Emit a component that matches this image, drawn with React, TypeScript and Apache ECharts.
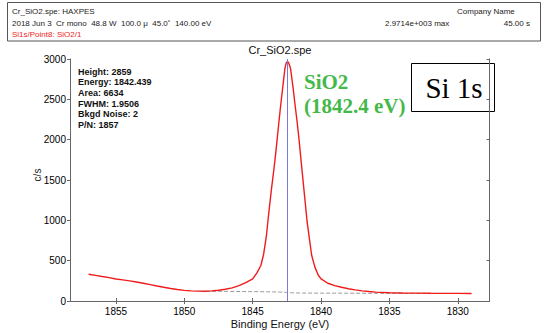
import React, { useEffect, useRef } from "react";
import * as echarts from "echarts";

// Spectrum (binding energy, counts per second)
const energy = [
  1857.0, 1856.5, 1856.0, 1855.5, 1855.0, 1854.5, 1854.0, 1853.5, 1853.0, 1852.5,
  1852.0, 1851.5, 1851.0, 1850.5, 1850.0, 1849.5, 1849.0, 1848.5, 1848.0, 1847.5,
  1847.0, 1846.5, 1846.0, 1845.5, 1845.0, 1844.7, 1844.4, 1844.2, 1844.0, 1843.89,
  1843.75, 1843.62, 1843.47, 1843.33, 1843.2, 1843.08, 1842.95, 1842.81, 1842.64, 1842.55,
  1842.45, 1842.35, 1842.23, 1842.04, 1841.9, 1841.75, 1841.62, 1841.5, 1841.38, 1841.26,
  1841.14, 1841.02, 1840.85, 1840.69, 1840.45, 1840.21, 1840.0, 1839.5, 1839.0, 1838.5,
  1838.0, 1837.5, 1837.0, 1836.5, 1836.0, 1835.0, 1834.0, 1833.0, 1832.0, 1831.0,
  1830.0, 1829.0,
];
const counts = [
  331, 318, 303, 290, 272, 262, 250, 236, 220, 203,
  186, 170, 155, 142, 132, 126, 122, 121, 125, 133,
  145, 162, 190, 228, 275, 345, 440, 580, 800, 983,
  1200, 1396, 1600, 1809, 2020, 2222, 2430, 2636, 2883, 2950,
  2971, 2945, 2883, 2636, 2430, 2222, 2020, 1809, 1600, 1396,
  1190, 983, 770, 570, 420, 322, 275, 220, 190, 170,
  152, 138, 126, 117, 110, 103, 100, 98, 96, 95,
  94, 93,
];

// Background (dashed)
const bgEnergy = [1848.4, 1846.0, 1844.0, 1843.0, 1842.5, 1842.0, 1841.0, 1839.0, 1837.0, 1835.0, 1833.0, 1829.0];
const bgCounts = [121, 118, 114, 111, 106, 100, 98, 97, 96, 95, 94, 93];

const peakEnergy = 1842.44;
const xTicks = [1855, 1850, 1845, 1840, 1835, 1830];
const xMin = 1827.68;
const xMax = 1858.36;
const yMin = 0;
const yMax = 3000;
const yStep = 500;

const headerLine1 = "Cr_SiO2.spe: HAXPES";
const headerLine2 = "2018 Jun 3  Cr mono  48.8 W  100.0 \u03bc  45.0\u02da  140.00 eV";
const headerLine3 = "Si1s/Point8: SiO2/1";
const companyText = "Company Name";
const maxText = "2.9714e+003 max";
const timeText = "45.00 s";
const titleText = "Cr_SiO2.spe";
const statsLines = [
  "Height: 2859",
  "Energy: 1842.439",
  "Area: 6634",
  "FWHM: 1.9506",
  "Bkgd Noise: 2",
  "P/N: 1857",
];
const peakLabel = ["SiO2", "(1842.4 eV)"];
const regionLabel = "Si 1s";
const xName = "Binding Energy (eV)";
const yName = "c/s";

const SANS = "'Liberation Sans', Arial, sans-serif";
const SERIF = "'Liberation Serif', 'Times New Roman', serif";

export default function App() {
  const ref = useRef<HTMLDivElement>(null);

  useEffect(() => {
    if (!ref.current) return;
    const chart = echarts.init(ref.current, null, { renderer: "svg" });
    const axisColor = "#666";
    const spectrum = energy.map((e, i) => [e, counts[i]]);
    const background = bgEnergy.map((e, i) => [e, bgCounts[i]]);
    const plain = (v: number) => String(v);

    chart.setOption({
      animation: false,
      backgroundColor: "#fff",
      grid: { left: 70, top: 59, width: 419.5, height: 242, containLabel: false },
      xAxis: [
        {
          type: "value",
          inverse: true,
          min: xMin,
          max: xMax,
          position: "bottom",
          axisLine: { show: true, lineStyle: { color: axisColor, width: 1 } },
          axisTick: { show: true, inside: true, length: 3, customValues: xTicks, lineStyle: { color: axisColor } },
          axisLabel: { show: true, customValues: xTicks, formatter: plain, fontSize: 10, color: "#000", fontFamily: SANS, margin: 5 },
          splitLine: { show: false },
        },
        {
          type: "value",
          inverse: true,
          min: xMin,
          max: xMax,
          position: "top",
          axisLine: { show: true, lineStyle: { color: axisColor, width: 1 } },
          axisTick: { show: true, inside: true, length: 3, customValues: xTicks, lineStyle: { color: axisColor } },
          axisLabel: { show: false },
          splitLine: { show: false },
        },
      ],
      yAxis: [
        {
          type: "value",
          min: yMin,
          max: yMax,
          interval: yStep,
          position: "left",
          axisLine: { show: true, lineStyle: { color: axisColor, width: 1 } },
          axisTick: { show: true, inside: false, length: 3, lineStyle: { color: axisColor } },
          axisLabel: { formatter: plain, fontSize: 10, color: "#000", fontFamily: SANS, margin: 4 },
          splitLine: { show: false },
        },
        {
          type: "value",
          min: yMin,
          max: yMax,
          interval: yStep,
          position: "right",
          axisLine: { show: true, lineStyle: { color: axisColor, width: 1 } },
          axisTick: { show: true, inside: true, length: 3, lineStyle: { color: axisColor } },
          axisLabel: { show: false },
          splitLine: { show: false },
        },
      ],
      series: [
        {
          type: "line",
          data: background,
          xAxisIndex: 0,
          yAxisIndex: 0,
          showSymbol: false,
          symbol: "none",
          lineStyle: { color: "#9a9a9a", width: 1, type: [4, 2] },
          z: 2,
        },
        {
          type: "line",
          data: spectrum,
          xAxisIndex: 0,
          yAxisIndex: 0,
          showSymbol: false,
          symbol: "none",
          lineStyle: { color: "#ee1c1c", width: 1.4 },
          z: 3,
          markLine: {
            silent: true,
            symbol: "none",
            label: { show: false },
            lineStyle: { color: "#7b7bd6", width: 1, type: "solid" },
            data: [{ xAxis: peakEnergy }],
          },
        },
      ],
      graphic: [
        {
          type: "rect",
          shape: { x: 7.5, y: 2.5, width: 533, height: 38.5 },
          style: { fill: "none", stroke: "#555", lineWidth: 1 },
        },
        {
          type: "text",
          style: { text: headerLine1, x: 12, y: 11, fontSize: 8, fontFamily: SANS, fill: "#222", verticalAlign: "middle" },
        },
        {
          type: "text",
          style: { text: headerLine2, x: 12, y: 23, fontSize: 8, fontFamily: SANS, fill: "#222", verticalAlign: "middle" },
        },
        {
          type: "text",
          style: { text: headerLine3, x: 12, y: 34, fontSize: 8, fontFamily: SANS, fill: "#ee1c1c", verticalAlign: "middle" },
        },
        {
          type: "text",
          style: { text: companyText, x: 457, y: 11, fontSize: 8, fontFamily: SANS, fill: "#222", verticalAlign: "middle" },
        },
        {
          type: "text",
          style: { text: maxText, x: 385, y: 23, fontSize: 8, fontFamily: SANS, fill: "#222", verticalAlign: "middle" },
        },
        {
          type: "text",
          style: { text: timeText, x: 530, y: 23, fontSize: 8, fontFamily: SANS, fill: "#222", align: "right", verticalAlign: "middle" },
        },
        {
          type: "text",
          style: { text: titleText, x: 280, y: 50, fontSize: 11, fontFamily: SANS, fill: "#111", align: "center", verticalAlign: "middle" },
        },
        {
          type: "text",
          style: {
            text: statsLines.join("\n"),
            x: 78,
            y: 66.4,
            fontSize: 9,
            fontWeight: "bold",
            fontFamily: SANS,
            fill: "#111",
            lineHeight: 10.65,
            verticalAlign: "top",
          },
        },
        {
          type: "text",
          style: { text: peakLabel[0], x: 304, y: 82, fontSize: 21, fontWeight: "bold", fontFamily: SERIF, fill: "#45b84a", verticalAlign: "middle" },
        },
        {
          type: "text",
          style: { text: peakLabel[1], x: 304, y: 106, fontSize: 21, fontWeight: "bold", fontFamily: SERIF, fill: "#45b84a", verticalAlign: "middle" },
        },
        {
          type: "rect",
          shape: { x: 411.5, y: 63.5, width: 83, height: 48 },
          style: { fill: "none", stroke: "#000", lineWidth: 1 },
        },
        {
          type: "text",
          style: { text: regionLabel, x: 454, y: 88, fontSize: 29, fontFamily: SERIF, fill: "#000", align: "center", verticalAlign: "middle" },
        },
        {
          type: "text",
          x: 37,
          y: 175,
          rotation: Math.PI / 2,
          style: { text: yName, x: 0, y: 0, fontSize: 10, fontFamily: SANS, fill: "#222", align: "center", verticalAlign: "middle" },
        },
        {
          type: "text",
          style: { text: xName, x: 280, y: 324, fontSize: 11, fontFamily: SANS, fill: "#111", align: "center", verticalAlign: "middle" },
        },
      ],
    });

    return () => chart.dispose();
  }, []);

  return (
    <div
      ref={ref}
      style={{ position: "absolute", left: 0, top: 0, width: 548, height: 333, background: "#fff" }}
    />
  );
}
